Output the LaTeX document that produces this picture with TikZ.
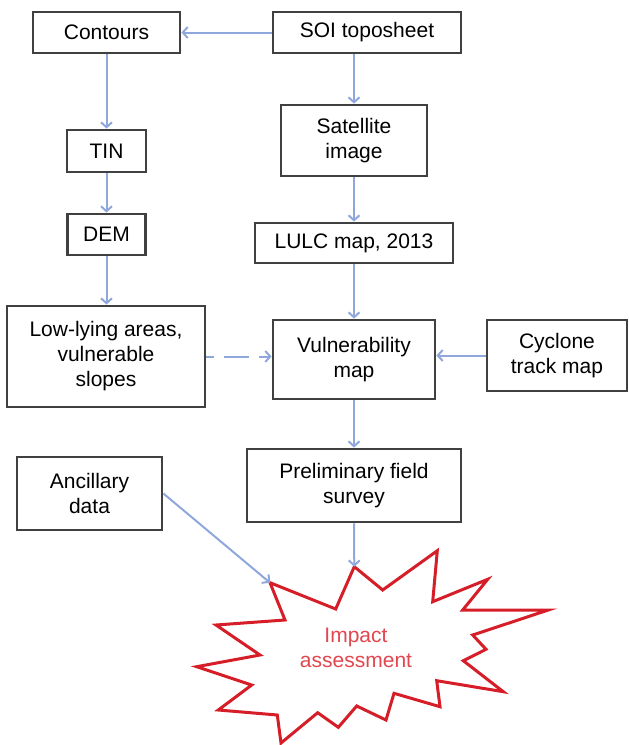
\documentclass[tikz,border=0pt]{standalone}
\usepackage{fontspec}
\setmainfont{Liberation Sans}
\usepackage{xcolor}
\usepackage{tikz}
\usetikzlibrary{arrows.meta, positioning, calc}
\definecolor{flowblue}{RGB}{143,167,219}
\definecolor{boxgray}{RGB}{64,64,64}
\definecolor{starred}{RGB}{214,30,40}
\definecolor{textred}{RGB}{226,70,78}

\begin{document}
\begin{tikzpicture}[x=1pt, y=-1pt,
    box/.style={draw=boxgray, line width=2.8pt, fill=white, inner sep=0pt, align=center,
        font=\fontsize{21}{25}\selectfont},
    flow/.style={draw=flowblue, line width=2pt, ->},
    >={Straight Barb[length=5pt, width=11pt, line width=2pt]}]
    \useasboundingbox (0, 0) rectangle (629, 745);
    \node[box, minimum width=147, minimum height=41] (contours) at (106.5, 32.5) {Contours};
    \node[box, minimum width=188, minimum height=41] (soi) at (367, 32.5) {SOI toposheet};
    \node[box, minimum width=79, minimum height=42] (tin) at (106.5, 151) {TIN};
    \node[box, minimum width=146, minimum height=71] (sat) at (354, 140.5) {Satellite\\image};
    \node[box, minimum width=78, minimum height=41] (dem) at (106.5, 234.5) {DEM};
    \node[box, minimum width=198, minimum height=40] (lulc) at (354, 243) {LULC map, 2013};
    \node[box, minimum width=198, minimum height=101] (low) at (106, 356.5) {Low-lying areas,\\vulnerable\\slopes};
    \node[box, minimum width=162, minimum height=79] (vuln) at (354, 359.5) {Vulnerability\\map};
    \node[box, minimum width=140, minimum height=71] (cyclone) at (557, 355.5) {Cyclone\\track map};
    \node[box, minimum width=145, minimum height=73] (ancillary) at (89.5, 493.5) {Ancillary\\data};
    \node[box, minimum width=214, minimum height=73] (prelim) at (354, 485.5) {Preliminary field\\survey};
    \coordinate (tipleft) at (270, 582.7);
    \coordinate (tiptop) at (354.3, 566.7);
    \draw[starred, line width=3pt, line join=miter]
        (tipleft) -- (335.7, 609) -- (tiptop) -- (382.7, 590) -- (437.3, 550.7) -- (432.7, 601.7)
        -- (487.7, 579.3) -- (462.7, 610) -- (548.3, 610) -- (472.7, 635) -- (486, 649.3)
        -- (463.3, 660.7) -- (503.3, 691.7) -- (436.7, 680.7) -- (440, 706.7) -- (394, 693.3)
        -- (386, 720) -- (356.7, 706) -- (338.3, 727.3) -- (317.7, 712.7) -- (281, 743)
        -- (277.3, 715) -- (218.3, 710) -- (251.7, 685) -- (196.7, 666.7) -- (260, 655)
        -- (216, 625) -- (285, 620) -- cycle;
    \node[align=center, text=textred, font=\fontsize{21}{25}\selectfont] (impact) at (356, 648) {Impact\\assessment};
    \draw[flow] (soi.west) -- (contours.east);
    \draw[flow] (contours.south) -- (tin.north);
    \draw[flow] (tin.south) -- (dem.north);
    \draw[flow] (dem.south) -- (low.north -| dem.south);
    \draw[flow] (soi.south -| sat.north) -- (sat.north);
    \draw[flow] (sat.south) -- (lulc.north);
    \draw[flow] (lulc.south) -- (vuln.north);
    \draw[flow, dash pattern=on 25pt off 10pt, dash phase=17pt] (low.east) -- (low.east -| vuln.west);
    \draw[flow] (cyclone.west) -- (cyclone.west -| vuln.east);
    \draw[flow] (vuln.south) -- (prelim.north);
    \draw[flow] (prelim.south) -- (tiptop);
    \draw[flow] (ancillary.east) -- (tipleft);
\end{tikzpicture}
\end{document}
